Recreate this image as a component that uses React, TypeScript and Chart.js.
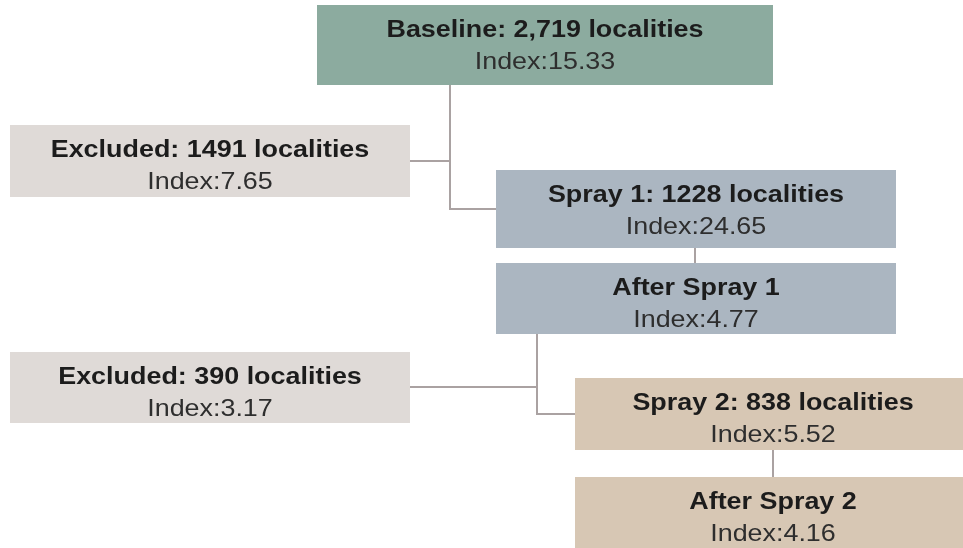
import React, { useEffect, useRef } from "react";
import { Chart, registerables } from "chart.js";

Chart.register(...registerables);

// ---- Data ----
const titles = [
  "Baseline: 2,719 localities",
  "Excluded: 1491 localities",
  "Spray 1: 1228 localities",
  "After Spray 1",
  "Excluded: 390 localities",
  "Spray 2: 838 localities",
  "After Spray 2",
];
const indexValues = [15.33, 7.65, 24.65, 4.77, 3.17, 5.52, 4.16];

// ---- Layout (chart units, x: 0..963, y: 0..548 top-down) ----
const boxLeft = [317, 10, 496, 496, 10, 575, 575];
const boxRight = [773, 410, 896, 896, 410, 971, 971];
const boxTop = [5, 125, 170, 263, 352, 378, 477];
const boxBottom = [85, 197, 248, 334, 423, 450, 548];
const boxColors = ["#8cab9f", "#dfdad7", "#abb6c1", "#abb6c1", "#dfdad7", "#d7c7b4", "#d7c7b4"];

const connectors: { x: number; y: number }[][] = [
  [{ x: 450, y: 85 }, { x: 450, y: 209 }, { x: 496, y: 209 }],
  [{ x: 410, y: 161 }, { x: 450, y: 161 }],
  [{ x: 695, y: 248 }, { x: 695, y: 263 }],
  [{ x: 537, y: 334 }, { x: 537, y: 414 }, { x: 575, y: 414 }],
  [{ x: 410, y: 387 }, { x: 537, y: 387 }],
  [{ x: 773, y: 450 }, { x: 773, y: 477 }],
];

const boxPlugin = {
  id: "flowBoxes",
  beforeDatasetsDraw(chart: any) {
    const { ctx, scales } = chart;
    const xs = scales.x;
    const ys = scales.y;
    ctx.save();
    for (let i = 0; i < titles.length; i++) {
      const x0 = xs.getPixelForValue(boxLeft[i]);
      const x1 = xs.getPixelForValue(boxRight[i]);
      const y0 = ys.getPixelForValue(boxTop[i]);
      const y1 = ys.getPixelForValue(boxBottom[i]);
      ctx.fillStyle = boxColors[i];
      ctx.fillRect(x0, y0, x1 - x0, y1 - y0);
    }
    ctx.restore();
  },
  afterDatasetsDraw(chart: any) {
    const { ctx, scales } = chart;
    const xs = scales.x;
    const ys = scales.y;
    for (let i = 0; i < titles.length; i++) {
      const cx = (xs.getPixelForValue(boxLeft[i]) + xs.getPixelForValue(boxRight[i])) / 2;
      const top = ys.getPixelForValue(boxTop[i]);
      ctx.save();
      ctx.textAlign = "center";
      ctx.textBaseline = "alphabetic";
      ctx.translate(cx, top + 32);
      ctx.scale(1.17, 1);
      ctx.fillStyle = "#1c1c1c";
      ctx.font = "bold 23px 'Liberation Sans', Arial, sans-serif";
      ctx.fillText(titles[i], 0, 0);
      ctx.restore();

      ctx.save();
      ctx.textAlign = "center";
      ctx.textBaseline = "alphabetic";
      ctx.translate(cx, top + 63.5);
      ctx.scale(1.12, 1);
      ctx.fillStyle = "#2e2e2e";
      ctx.font = "24px 'Liberation Sans', Arial, sans-serif";
      ctx.fillText("Index:" + indexValues[i].toFixed(2), 0, 0);
      ctx.restore();
    }
  },
};

export default function App() {
  const ref = useRef<HTMLCanvasElement | null>(null);
  useEffect(() => {
    if (!ref.current) return;
    const chart = new Chart(ref.current, {
      type: "scatter",
      data: {
        datasets: connectors.map((pts) => ({
          data: pts,
          showLine: true,
          borderColor: "#aaa2a2",
          borderWidth: 2,
          pointRadius: 0,
          fill: false,
          tension: 0,
        })),
      },
      options: {
        animation: false,
        responsive: false,
        maintainAspectRatio: false,
        devicePixelRatio: 1,
        layout: { padding: 0 },
        clip: false as any,
        plugins: { legend: { display: false }, tooltip: { enabled: false } },
        events: [],
        scales: {
          x: { type: "linear", min: 0, max: 963, display: false },
          y: { type: "linear", min: 0, max: 548, reverse: true, display: false },
        },
      },
      plugins: [boxPlugin],
    });
    return () => chart.destroy();
  }, []);
  return (
    <div style={{ position: "absolute", left: 0, top: 0, width: 963, height: 548, background: "#ffffff" }}>
      <canvas ref={ref} width={963} height={548} style={{ display: "block" }} />
    </div>
  );
}
